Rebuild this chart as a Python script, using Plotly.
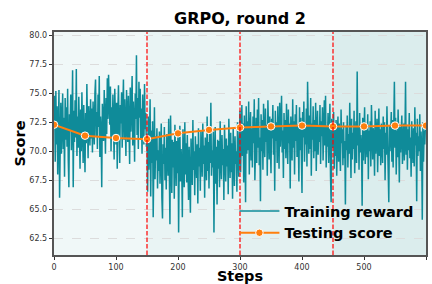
import plotly.graph_objects as go

# ---------------- data ----------------
train_phase1 = [
    72.3, 74.8, 69.1, 75.2, 70.6, 73.9, 68.0, 72.7, 75.3, 66.0,
    71.5, 74.2, 69.8, 73.1, 75.0, 70.2, 72.9, 67.8, 74.6, 71.0,
    73.8, 70.4, 75.4, 69.3, 66.9, 73.2, 71.8, 74.9, 70.1, 72.6,
    77.0, 66.9, 73.5, 70.8, 74.4, 71.2, 77.1, 69.6, 73.0, 70.3,
    74.7, 71.9, 68.5, 73.6, 70.0, 75.1, 72.2, 69.0, 74.0, 71.4,
    68.2, 73.3, 70.7, 75.8, 71.6, 69.4, 73.9, 72.0, 70.5, 74.5,
    71.1, 73.7, 69.9, 74.3, 72.4, 70.6, 75.0, 76.2, 71.3, 73.4,
    70.2, 74.9, 72.1, 76.5, 69.5, 73.0, 71.7, 66.9, 74.1, 72.6,
    70.9, 75.3, 73.2, 69.8, 74.6, 71.5, 76.3, 72.8, 76.6, 74.8,
    72.3, 75.6, 70.0, 73.8, 71.2, 74.9, 72.7, 69.3, 75.4, 73.1,
    70.6, 74.2, 68.5, 73.5, 75.7, 71.8, 69.0, 74.0, 72.4, 75.1,
    70.3, 73.6, 76.2, 71.0, 74.5, 72.2, 69.6, 75.3, 73.0, 70.8,
    74.8, 72.0, 68.9, 75.5, 71.7, 73.9, 76.5, 70.5, 74.3, 72.6,
    69.1, 75.0, 72.8, 78.3, 71.4, 74.6, 70.2, 76.0, 72.9, 75.4,
    71.0, 73.7, 69.8, 74.9, 72.5, 70.6, 75.8, 71.9, 73.3, 70.4,
]
train_phase2 = [
    71.2, 66.5, 73.0, 68.4, 70.9, 74.5, 66.1, 71.8, 69.0, 72.6,
    64.3, 70.5, 73.8, 67.6, 71.3, 69.2, 72.0, 66.8, 70.1, 68.3,
    71.7, 67.2, 69.8, 72.4, 66.0, 64.2, 70.6, 68.9, 72.1, 67.5,
    70.3, 66.7, 71.5, 69.1, 67.9, 72.8, 68.2, 63.7, 73.1, 69.4,
    66.4, 71.0, 68.6, 70.8, 65.9, 72.3, 69.5, 67.0, 70.9, 68.1,
    71.6, 63.0, 69.7, 72.2, 67.4, 70.2, 68.8, 64.3, 71.9, 69.0,
    66.9, 72.5, 68.0, 70.7, 67.3, 71.4, 69.3, 65.8, 70.4, 68.5,
    64.7, 71.1, 69.6, 67.1, 72.7, 68.4, 70.0, 66.2, 71.3, 69.9,
    67.7, 70.6, 65.5, 72.0, 68.7, 70.3, 66.6, 71.8, 69.2, 67.8,
    72.4, 68.9, 70.5, 66.0, 71.2, 69.4, 67.5, 73.0, 68.3, 70.8,
    66.8, 71.5, 69.0, 74.2, 67.9, 70.1, 68.6, 71.7, 63.0, 69.8,
    72.1, 67.2, 70.4, 65.4, 71.0, 68.5, 70.9, 66.9, 72.6, 69.3,
    67.6, 71.4, 68.8, 70.2, 65.8, 72.3, 69.6, 67.4, 71.1, 68.7,
    70.5, 66.3, 72.8, 69.1, 67.7, 71.6, 68.2, 70.7, 65.9, 72.0,
    69.4, 67.0, 71.3, 68.9, 70.0, 66.5, 72.5, 69.7, 67.8, 71.0,
]
train_phase3 = [
    73.5, 68.2, 71.9, 74.0, 69.6, 72.4, 67.3, 73.1, 70.5, 65.6,
    73.9, 69.8, 72.6, 70.1, 74.3, 68.0, 71.7, 73.4, 69.2, 72.0,
    68.6, 73.0, 70.7, 74.5, 67.5, 71.5, 72.9, 69.0, 73.6, 70.3,
    74.6, 68.8, 71.2, 65.7, 73.2, 70.0, 72.7, 68.4, 74.1, 71.0,
    69.5, 73.7, 70.8, 72.3, 67.9, 74.4, 71.4, 69.3, 73.0, 70.6,
    68.1, 72.8, 71.1, 74.0, 69.7, 72.2, 66.6, 73.5, 70.9, 72.5,
    69.0, 73.9, 71.6, 68.5, 74.2, 70.4, 72.1, 74.8, 69.9, 71.8,
    67.7, 73.3, 70.2, 72.7, 69.4, 74.1, 71.3, 68.9, 73.6, 70.7,
    72.4, 66.8, 73.0, 71.0, 69.2, 74.5, 70.3, 72.6, 68.0, 73.2,
    70.9, 74.0, 69.5, 72.2, 71.4, 67.4, 73.8, 70.1, 72.9, 69.6,
    66.4, 73.4, 71.2, 74.3, 69.1, 72.0, 70.6, 73.7, 68.7, 76.0,
    71.5, 69.8, 73.1, 70.2, 74.6, 67.9, 72.4, 71.0, 73.9, 69.4,
    72.7, 70.0, 74.2, 68.3, 71.8, 73.5, 69.7, 72.3, 70.8, 74.0,
    68.9, 72.6, 71.3, 73.8, 69.2, 71.9, 74.4, 70.5, 74.8, 68.6,
    72.1, 70.4, 73.3, 69.0, 71.7, 74.1, 67.8, 65.6, 72.8, 70.3,
]
train_phase4 = [
    70.8, 73.4, 68.5, 72.0, 69.6, 72.7, 67.9, 71.3, 73.0, 69.1,
    72.4, 70.0, 68.3, 73.6, 70.7, 71.9, 68.8, 72.5, 69.4, 70.9,
    65.4, 72.2, 70.1, 73.1, 68.6, 71.5, 69.8, 74.2, 70.4, 67.7,
    72.8, 69.3, 71.6, 70.2, 73.5, 68.1, 71.0, 72.6, 69.0, 76.9,
    70.5, 72.1, 68.4, 73.3, 69.9, 71.4, 70.3, 65.3, 72.9, 69.2,
    71.7, 73.8, 68.9, 72.3, 70.6, 69.5, 73.2, 67.6, 71.8, 70.0,
    72.6, 68.7, 74.0, 70.9, 69.3, 72.0, 71.2, 67.9, 73.5, 69.8,
    71.1, 72.8, 68.2, 70.4, 73.7, 69.6, 71.9, 68.8, 72.4, 70.7,
    69.0, 73.0, 70.2, 72.5, 67.5, 71.6, 69.7, 73.9, 70.5, 68.4,
    65.6, 72.2, 70.0, 71.4, 73.4, 69.1, 72.7, 68.6, 71.3, 76.0,
    70.3, 72.9, 68.0, 71.8, 69.5, 73.6, 70.8, 67.3, 72.1, 69.9,
    71.5, 73.1, 68.9, 70.6, 72.4, 69.2, 71.0, 76.0, 69.7, 72.3,
    68.4, 71.9, 70.1, 73.3, 69.4, 71.2, 67.8, 72.6, 70.3, 69.0,
    72.0, 68.7, 73.8, 70.5, 71.6, 65.7, 72.8, 69.6, 71.3, 70.0,
    73.2, 68.3, 71.7, 70.4, 64.1, 72.5, 69.1, 71.8, 70.6, 72.2,
]
training_reward = train_phase1 + train_phase2 + train_phase3 + train_phase4
training_steps = list(range(len(training_reward)))

test_steps = [0, 50, 100, 150, 200, 250, 300, 350, 400, 450, 500, 550, 600]
test_score = [72.3, 71.35, 71.15, 71.05, 71.55, 71.85, 72.05, 72.15, 72.22, 72.15, 72.15, 72.22, 72.22]

phase_bounds = [0, 150, 300, 450, 600]
phase_alpha = [0.06, 0.085, 0.11, 0.14]
y_ticks = [62.5, 65.0, 67.5, 70.0, 72.5, 75.0, 77.5, 80.0]
x_ticks = [0, 100, 200, 300, 400, 500, 600]

# ---------------- figure ----------------
FONT = "DejaVu Sans"
fig = go.Figure()

fig.add_trace(go.Scatter(
    x=training_steps, y=training_reward, mode="lines",
    name="<b>Training reward</b>", legendgroup="a",
    line=dict(color="#0f8b99", width=1.5),
))
fig.add_trace(go.Scatter(
    x=test_steps, y=test_score, mode="lines+markers",
    name="<b>Testing score</b>", legendgroup="b",
    line=dict(color="#ff7f0e", width=2),
    marker=dict(size=7.5, color="#ff7f0e", line=dict(color="white", width=1)),
))

shapes = []
for i in range(4):
    a = phase_alpha[i]
    shapes.append(dict(type="rect", xref="x", yref="paper",
                       x0=phase_bounds[i], x1=phase_bounds[i + 1], y0=0, y1=1,
                       fillcolor=f"rgba(0,128,128,{a})", line=dict(width=0),
                       layer="below"))
for b in phase_bounds[1:-1]:
    shapes.append(dict(type="line", xref="x", yref="paper", x0=b, x1=b, y0=0, y1=1,
                       line=dict(color="red", width=1.2, dash="4.5px,2px"), layer="above"))

fig.update_layout(
    width=432, height=284,
    margin=dict(l=54, r=6, t=32, b=29, autoexpand=False),
    paper_bgcolor="white", plot_bgcolor="white",
    font=dict(family=FONT, color="#222", size=9),
    title=dict(text="<b>GRPO, round 2</b>", x=240 / 432, xanchor="center",
               y=1 - 18 / 284, yanchor="middle",
               font=dict(size=16, color="black", family=FONT)),
    shapes=shapes,
    showlegend=True,
    legend=dict(x=0.485, xanchor="left", y=0.027, yanchor="bottom",
                bgcolor="rgba(0,0,0,0)", borderwidth=0,
                font=dict(size=14.5, color="black", family=FONT),
                traceorder="grouped", tracegroupgap=0, itemwidth=40),
)

fig.update_xaxes(
    range=[0, 600], tickvals=x_ticks, ticks="outside", ticklen=3.5, tickcolor="#333",
    tickfont=dict(size=8, color="#333"), automargin=False,
    showline=True, linecolor="#555", linewidth=1.5, mirror=True,
    showgrid=False, zeroline=False,
    title=dict(text="<b>Steps</b>", font=dict(size=14.5, color="black"), standoff=5),
)
fig.update_yaxes(
    range=[61.05, 80.3], tickvals=y_ticks, tickformat=".1f",
    ticks="outside", ticklen=3.5, tickcolor="#333",
    tickfont=dict(size=8, color="#333"), automargin=False,
    showline=True, linecolor="#555", linewidth=1.5, mirror=True,
    showgrid=True, gridcolor="#dcdcdc", gridwidth=0.8, griddash="dash",
    zeroline=False,
    title=dict(text="<b>Score</b>", font=dict(size=14.5, color="black"), standoff=0),
)

fig.write_html("out.html", config={"displayModeBar": False},
               post_script="document.body.style.margin='0';")
